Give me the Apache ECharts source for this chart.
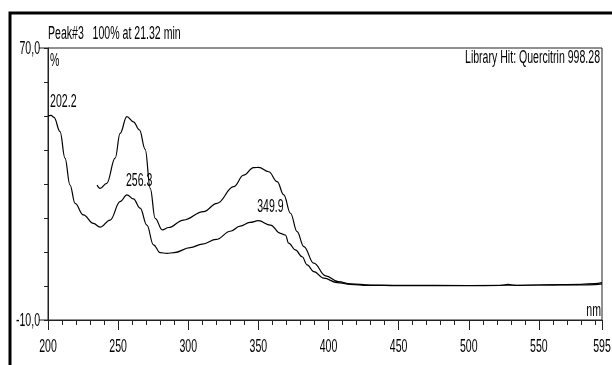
<!DOCTYPE html>
<html>
<head>
<meta charset="utf-8">
<script src="https://cdn.jsdelivr.net/npm/echarts@6/dist/echarts.min.js"></script>
<style>
html,body{margin:0;padding:0;background:#fff;}
#chart{width:612px;height:365px;}
</style>
</head>
<body>
<div id="chart"></div>
<script>
// Sample spectrum (lower curve, full range)
const sampleNm = [200, 202.2, 204.3, 208.6, 212.1, 215.7, 219.3, 225.2, 232.4, 237.1, 244.3, 251.4, 256.3, 260.9, 265.7, 270.5, 275.2, 280, 284.8, 290, 301.4, 310, 320, 330, 337, 344, 350, 358.6, 365.7, 369.3, 371.6, 376.4, 381.2, 384.8, 389.5, 396.6, 406.2, 415.7, 428, 450, 500, 522, 528, 534, 550, 565, 580, 590, 595];
const sampleVal = [50.0, 50.2, 49.6, 45.4, 37.6, 29.7, 24.3, 20.9, 18.4, 17.3, 19.4, 24.8, 26.8, 25.6, 22.9, 17.9, 12.1, 9.8, 9.6, 9.8, 11.3, 12.3, 13.7, 16.1, 17.6, 18.7, 19.2, 17.9, 15.5, 15.0, 12.6, 10.6, 8.6, 6.2, 4.2, 2.3, 1.0, 0.5, 0.2, 0.1, 0.1, 0.15, 0.45, 0.15, 0.3, 0.35, 0.3, 0.4, 0.6];
// Library spectrum (upper curve)
const libNm = [235, 237.1, 241.9, 247.9, 251.4, 256.2, 260.9, 265.2, 269.3, 272.9, 276.4, 281.5, 286, 296.6, 310.9, 320.5, 332.4, 339.5, 346.6, 350.2, 357.4, 363.4, 368.1, 372.9, 377.6, 382.4, 389.5, 398, 407, 415.7, 430, 450, 500, 550, 580, 590, 595];
const libVal = [29.7, 28.7, 30.2, 37.6, 44.9, 49.8, 48.3, 45.9, 40.2, 28.7, 19.9, 16.5, 17.2, 19.4, 21.9, 24.3, 29.2, 32.6, 34.8, 34.9, 33.6, 30.7, 26.8, 21.4, 16.0, 11.6, 6.7, 3.0, 1.3, 0.6, 0.3, 0.2, 0.15, 0.3, 0.5, 0.7, 1.0];
// Peak annotations
const peakNm = [202.2, 256.3, 349.9];
const peakVal = [50.2, 26.8, 19.2];
const peakText = ['202.2', '256.3', '349.9'];
// Tick labels
const xTickLabels = [200, 250, 300, 350, 400, 450, 500, 550, 595];
const yTickLabels = [70, -10];
const yTickText = ['70,0', '-10,0'];
const titleText = 'Peak#3   100% at 21.32 min';
const hitText = 'Library Hit: Quercitrin 998.28';
const yUnit = '%';
const xUnit = 'nm';

const zip = (a, b) => a.map((v, i) => [v, b[i]]);

const chart = echarts.init(document.getElementById('chart'), null, {renderer: 'canvas', width: 612, height: 365});

const axisCol = '#222';
chart.setOption({
  animation: false,
  backgroundColor: '#fff',
  grid: {left: 48, right: 10, top: 48, bottom: 45, show: true, borderColor: axisCol, borderWidth: 1, backgroundColor: 'transparent'},
  xAxis: {
    type: 'value', min: 200, max: 595, interval: 50,
    axisLine: {show: true, onZero: false, lineStyle: {color: axisCol, width: 1}},
    axisTick: {show: true, length: 10, lineStyle: {color: axisCol}},
    minorTick: {show: true, splitNumber: 5, length: 5, lineStyle: {color: axisCol}},
    axisLabel: {show: false},
    splitLine: {show: false}
  },
  yAxis: {
    type: 'value', min: -10, max: 70, interval: 10,
    axisLine: {show: true, onZero: false, lineStyle: {color: axisCol, width: 1}},
    axisTick: {show: true, length: 4, lineStyle: {color: axisCol}},
    axisLabel: {show: false},
    splitLine: {show: false}
  },
  series: [
    {type: 'line', data: zip(sampleNm, sampleVal), showSymbol: false, smooth: 0.4, smoothMonotone: 'x',
     lineStyle: {color: '#000', width: 1.2}, itemStyle: {color: '#000'}, z: 3},
    {type: 'line', data: zip(libNm, libVal), showSymbol: false, smooth: 0.4, smoothMonotone: 'x',
     lineStyle: {color: '#000', width: 1.2}, itemStyle: {color: '#000'}, z: 3}
  ]
});

const SX = 0.88, SY = 1.5;
function txt(text, x, y, align) {
  return {type: 'text', x: x, y: y, scaleX: SX, scaleY: SY, z: 10, silent: true,
    style: {text: text, x: 0, y: 0, align: align, verticalAlign: 'middle',
      fontFamily: 'Liberation Sans, Arial, sans-serif', fontSize: 12, fill: '#000'}};
}
const px = (x, y) => chart.convertToPixel({gridIndex: 0}, [x, y]);
const g = [];
// outer frame
g.push({type: 'rect', shape: {x: 10, y: 13, width: 620, height: 400}, style: {fill: 'none', stroke: '#000', lineWidth: 3}, silent: true});
const topLeft = px(200, 70), botRight = px(595, -10);
// x tick labels
xTickLabels.forEach(v => { const p = px(v, -10); g.push(txt(String(v), p[0], p[1] + 27, 'center')); });
// y tick labels + long ticks
yTickLabels.forEach((v, i) => {
  const p = px(200, v);
  g.push({type: 'line', shape: {x1: p[0] - 9, y1: p[1], x2: p[0], y2: p[1]}, style: {stroke: axisCol, lineWidth: 1}, silent: true});
  g.push(txt(yTickText[i], p[0] - 8, p[1] + 1, 'right'));
});
// peak labels
peakNm.forEach((v, i) => { const p = px(v, peakVal[i]); g.push(txt(peakText[i], p[0] - 1, p[1] - 13.5, 'left')); });
// title and annotations
g.push(txt(titleText, topLeft[0], topLeft[1] - 14, 'left'));
g.push(txt(yUnit, topLeft[0] + 2, topLeft[1] + 13, 'left'));
g.push(txt(hitText, botRight[0] - 2, topLeft[1] + 10, 'right'));
g.push(txt(xUnit, botRight[0] - 1, botRight[1] - 9, 'right'));
chart.setOption({graphic: g});
</script>
</body>
</html>
